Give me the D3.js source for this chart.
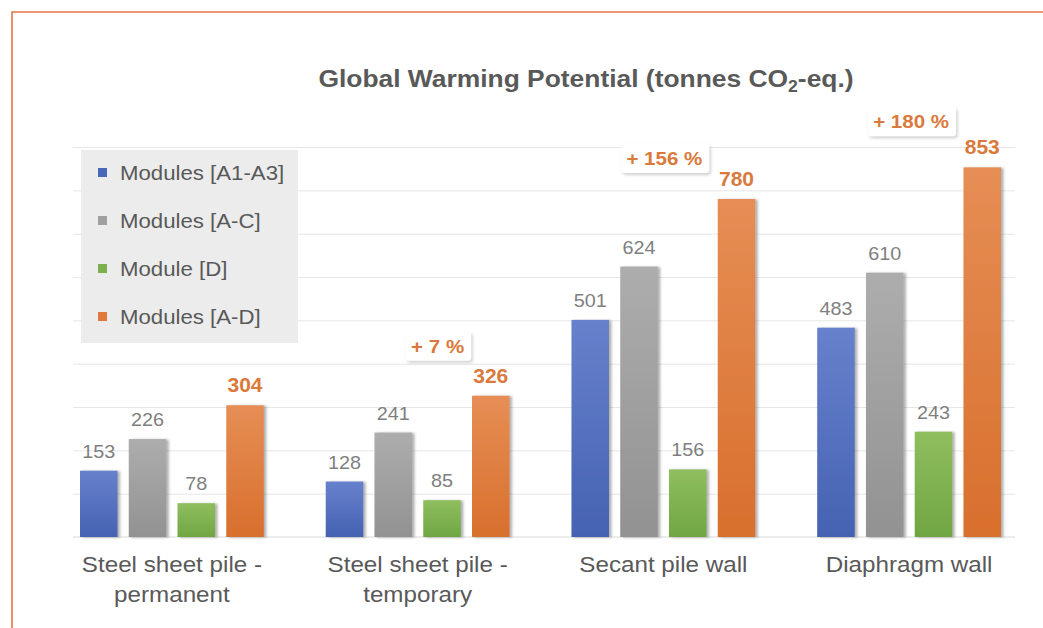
<!DOCTYPE html>
<html>
<head>
<meta charset="utf-8">
<script src="https://cdn.jsdelivr.net/npm/d3@7"></script>
<style>
  body { margin: 0; background: #fff; }
  svg { display: block; }
  text { font-family: "Liberation Sans", Arial, Helvetica, sans-serif; }
</style>
</head>
<body>
<svg id="chart" width="1043" height="628"></svg>
<script>
// ---- data ----
const categories = [
  "Steel sheet pile - permanent",
  "Steel sheet pile - temporary",
  "Secant pile wall",
  "Diaphragm wall"
];
const seriesNames = ["Modules [A1-A3]", "Modules [A-C]", "Module [D]", "Modules [A-D]"];
const valuesA1A3 = [153, 128, 501, 483];
const valuesAC   = [226, 241, 624, 610];
const valuesD    = [78, 85, 156, 243];
const valuesAD   = [304, 326, 780, 853];
const changeLabels = [null, "+ 7 %", "+ 156 %", "+ 180 %"];
const gridTicks = [100, 200, 300, 400, 500, 600, 700, 800, 900];

// ---- styling / layout ----
const W = 1043, H = 628;
const textGray = "#595959";
const valueGray = "#7f7f7f";
const accent = "#d97a3c";
const seriesStyle = [
  { top: "#6781cc", bottom: "#4562b2", key: "#4a67b8" },
  { top: "#adadad", bottom: "#929292", key: "#a0a0a0" },
  { top: "#8fbe5f", bottom: "#70a642", key: "#7cb04d" },
  { top: "#e68e55", bottom: "#d86f2d", key: "#e07a3c" }
];
// callout placement relative to the group centre / bar top (px)
const calloutDx = [0, 20, 1, 2];
const calloutDy = [0, 43, 34, 39];

const svg = d3.select("#chart");
const defs = svg.append("defs");

seriesStyle.forEach((s, i) => {
  const g = defs.append("linearGradient").attr("id", "grad" + i)
    .attr("x1", 0).attr("y1", 0).attr("x2", 0).attr("y2", 1);
  g.append("stop").attr("offset", "0%").attr("stop-color", s.top);
  g.append("stop").attr("offset", "100%").attr("stop-color", s.bottom);
});

const shadow = defs.append("filter").attr("id", "barShadow")
  .attr("x", "-20%").attr("y", "-5%").attr("width", "150%").attr("height", "115%");
shadow.append("feDropShadow").attr("dx", 2.5).attr("dy", 0.5)
  .attr("stdDeviation", 1).attr("flood-color", "#555").attr("flood-opacity", 0.45);

const boxShadow = defs.append("filter").attr("id", "boxShadow")
  .attr("x", "-20%").attr("y", "-30%").attr("width", "140%").attr("height", "170%");
boxShadow.append("feDropShadow").attr("dx", 1.5).attr("dy", 2)
  .attr("stdDeviation", 1.5).attr("flood-color", "#888").attr("flood-opacity", 0.4);

// helper: horizontally widened text placed at (x, y)
function placeText(sel, x, y, sx) {
  return sel.attr("x", 0).attr("y", 0)
    .attr("transform", `translate(${x},${y}) scale(${sx},1)`);
}

// ---- frame ----
svg.append("path")
  .attr("d", `M12,${H} V12 H${W}`)
  .attr("fill", "none").attr("stroke", "#e4764b").attr("stroke-width", 1.6);

// ---- scales ----
const x0 = d3.scaleBand().domain(categories).range([80, 1001])
  .paddingInner(0.252).paddingOuter(0);
const x1 = d3.scaleBand().domain(seriesNames).range([0, x0.bandwidth()])
  .paddingInner(0.23).paddingOuter(0);
const y = d3.scaleLinear().domain([0, 900]).range([537, 147]);

const plotLeft = 73, plotRight = 1015;

// ---- gridlines ----
const grid = svg.append("g").attr("transform", `translate(${plotLeft},0)`)
  .call(d3.axisLeft(y).tickValues(gridTicks).tickSize(-(plotRight - plotLeft)).tickFormat(""));
grid.select(".domain").remove();
grid.selectAll(".tick line").attr("stroke", "#e6e6e6").attr("stroke-width", 1);

svg.append("line")
  .attr("x1", plotLeft).attr("x2", plotRight)
  .attr("y1", y(0)).attr("y2", y(0))
  .attr("stroke", "#d9d9d9").attr("stroke-width", 1.2);

// ---- title ----
const title = svg.append("text")
  .attr("text-anchor", "middle")
  .attr("font-size", 24).attr("font-weight", "bold").attr("fill", textGray);
placeText(title, 586, 87, 1.1);
title.append("tspan").text("Global Warming Potential (tonnes CO");
title.append("tspan").attr("font-size", 16).attr("dy", 5).text("2");
title.append("tspan").attr("dy", -5).text("-eq.)");

// ---- legend ----
const legend = svg.append("g");
legend.append("rect")
  .attr("x", 81).attr("y", 150).attr("width", 217).attr("height", 193)
  .attr("fill", "#ececec");
seriesNames.forEach((name, i) => {
  const cy = 172.5 + i * 48;
  legend.append("rect")
    .attr("x", 98).attr("y", cy - 4.5).attr("width", 9).attr("height", 9)
    .attr("fill", seriesStyle[i].key);
  const t = legend.append("text")
    .attr("font-size", 19.5).attr("fill", textGray).text(name);
  placeText(t, 120, cy + 7, 1.14);
});

// ---- bars ----
const seriesValues = [valuesA1A3, valuesAC, valuesD, valuesAD];
const rows = [];
categories.forEach((c, ci) => {
  seriesNames.forEach((s, si) => {
    rows.push({ category: c, series: s, si, ci, value: seriesValues[si][ci] });
  });
});

const barGroup = svg.append("g");
barGroup.selectAll("rect")
  .data(rows)
  .join("rect")
  .attr("x", d => x0(d.category) + x1(d.series))
  .attr("y", d => y(d.value))
  .attr("width", x1.bandwidth())
  .attr("height", d => y(0) - y(d.value))
  .attr("fill", d => `url(#grad${d.si})`)
  .attr("filter", "url(#barShadow)");

// ---- value labels ----
const labelGroup = svg.append("g");
rows.forEach(d => {
  const isTotal = d.si === 3;
  const t = labelGroup.append("text")
    .attr("text-anchor", "middle")
    .attr("font-size", isTotal ? 20 : 18)
    .attr("font-weight", isTotal ? "bold" : "normal")
    .attr("fill", isTotal ? accent : valueGray)
    .text(d.value);
  placeText(t, x0(d.category) + x1(d.series) + x1.bandwidth() / 2, y(d.value) - 13, isTotal ? 1.05 : 1.1);
});

// ---- change callouts ----
changeLabels.forEach((lab, ci) => {
  if (!lab) return;
  const cx = x0(categories[ci]) + x0.bandwidth() / 2 + calloutDx[ci];
  const base = y(valuesAD[ci]) - calloutDy[ci];
  const g = svg.append("g");
  const box = g.append("rect");
  const t = g.append("text")
    .attr("text-anchor", "middle")
    .attr("font-size", 19).attr("font-weight", "bold").attr("fill", accent)
    .text(lab);
  placeText(t, cx, base, 1.08);
  const w = t.node().getComputedTextLength() * 1.08 + 12;
  box.attr("x", cx - w / 2 + 1).attr("y", base - 21)
    .attr("width", w).attr("height", 29)
    .attr("rx", 3).attr("fill", "#fff")
    .attr("filter", "url(#boxShadow)");
});

// ---- category labels ----
categories.forEach(c => {
  const lines = c.includes(" - ") ? [c.split(" - ")[0] + " -", c.split(" - ")[1]] : [c];
  const cx = x0(c) + x0.bandwidth() / 2;
  lines.forEach((ln, li) => {
    const t = svg.append("text")
      .attr("text-anchor", "middle")
      .attr("font-size", 22).attr("fill", textGray).text(ln);
    placeText(t, cx, 572 + li * 30, 1.1);
  });
});
</script>
</body>
</html>
